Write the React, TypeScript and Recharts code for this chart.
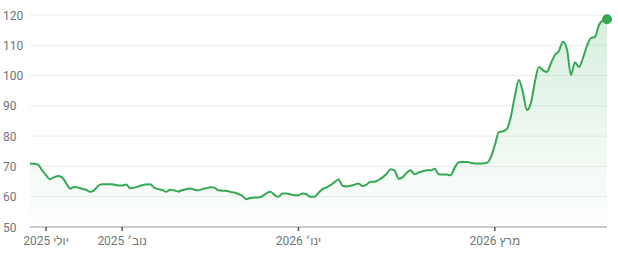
import { Area, AreaChart, CartesianGrid, ReferenceDot, XAxis, YAxis } from 'recharts';

// closing prices, one per sample, oldest first
const prices = [
    70.9, 70.9, 70.6, 68.8, 67.1, 65.8, 66.4, 66.8, 66.4, 64.5,
    62.7, 63.2, 63.0, 62.6, 62.3, 61.6, 62.1, 63.6, 64.1, 64.1,
    64.1, 64.0, 63.7, 63.7, 64.0, 62.8, 63.0, 63.4, 63.8, 64.0,
    64.1, 63.0, 62.5, 62.3, 61.6, 62.3, 62.1, 61.7, 62.2, 62.5,
    62.7, 62.3, 62.1, 62.5, 62.8, 63.1, 63.0, 62.1, 62.0, 62.0,
    61.6, 61.4, 60.9, 60.3, 59.2, 59.6, 59.7, 59.7, 60.2, 61.1,
    61.6, 60.6, 60.0, 61.1, 61.1, 60.8, 60.5, 60.5, 61.1, 60.8,
    60.0, 60.0, 61.3, 62.5, 63.1, 63.8, 64.8, 65.7, 63.6, 63.4,
    63.6, 64.0, 64.4, 63.5, 64.0, 64.9, 64.9, 65.6, 66.4, 67.6,
    69.1, 68.6, 65.9, 66.4, 67.9, 68.7, 67.4, 68.0, 68.4, 68.7,
    68.7, 69.2, 67.4, 67.3, 67.3, 67.1, 69.6, 71.4, 71.5, 71.5,
    71.2, 71.0, 71.0, 71.0, 71.2, 73.0, 77.0, 81.3, 81.6, 82.3,
    86.4, 93.2, 98.5, 94.5, 88.6, 90.9, 97.9, 102.8, 101.8, 101.2,
    104.0, 106.8, 108.1, 111.2, 108.8, 100.2, 104.4, 102.8, 105.8, 109.8,
    112.4, 112.8, 116.7, 118.2, 118.6,
];

const monthTickIdx = [4, 23, 67, 116];
const monthTickLabels = ['יולי 2025', 'נוב׳ 2025', 'ינו׳ 2026', 'מרץ 2026'];
const priceTicks = [50, 60, 70, 80, 90, 100, 110, 120];

const GREEN = '#34a853';
const LABEL = '#70757a';
const FONT = "Roboto, Arial, 'Liberation Sans', sans-serif";

const data = prices.map((v, i) => ({ i, v }));
const last = data[data.length - 1];

function PriceTick({ y, payload }: any) {
    return (
        <text x={3} y={y} dy={4.5} textAnchor="start" fill={LABEL} fontSize={12} fontFamily={FONT}>
            {payload.value}
        </text>
    );
}

function MonthTick({ x, y, payload }: any) {
    const k = monthTickIdx.indexOf(payload.value);
    return (
        <text
            x={x}
            y={y}
            dy={12}
            textAnchor="middle"
            fill={LABEL}
            fontSize={12}
            fontFamily={FONT}
            style={{ direction: 'rtl', unicodeBidi: 'embed' }}
        >
            {monthTickLabels[k]}
        </text>
    );
}

export default function App() {
    return (
        <div style={{ width: 618, height: 258, background: '#fff' }}>
            <style>{`body{margin:0;}`}</style>
            <AreaChart width={618} height={258} data={data} margin={{ top: 15, right: 11, bottom: 0, left: 0 }}>
                <defs>
                    <linearGradient id="priceFill" x1="0" y1="0" x2="0" y2="1">
                        <stop offset="0%" stopColor={GREEN} stopOpacity={0.32} />
                        <stop offset="100%" stopColor={GREEN} stopOpacity={0.01} />
                    </linearGradient>
                </defs>
                <CartesianGrid vertical={false} stroke="#ececec" />
                <XAxis
                    type="number"
                    dataKey="i"
                    domain={[0, prices.length - 1]}
                    ticks={monthTickIdx}
                    tick={<MonthTick />}
                    height={31}
                    axisLine={{ stroke: '#a0a0a0' }}
                    tickLine={{ stroke: '#555', strokeWidth: 1.5 }}
                    tickSize={4}
                    interval={0}
                />
                <YAxis
                    domain={[50, 120]}
                    ticks={priceTicks}
                    tick={<PriceTick />}
                    width={30}
                    axisLine={false}
                    tickLine={false}
                    interval={0}
                />
                <Area
                    type="monotone"
                    dataKey="v"
                    stroke={GREEN}
                    strokeWidth={2}
                    fill="url(#priceFill)"
                    dot={false}
                    activeDot={false}
                    isAnimationActive={false}
                />
                <ReferenceDot x={last.i} y={last.v} r={5} fill={GREEN} stroke="none" />
            </AreaChart>
        </div>
    );
}
